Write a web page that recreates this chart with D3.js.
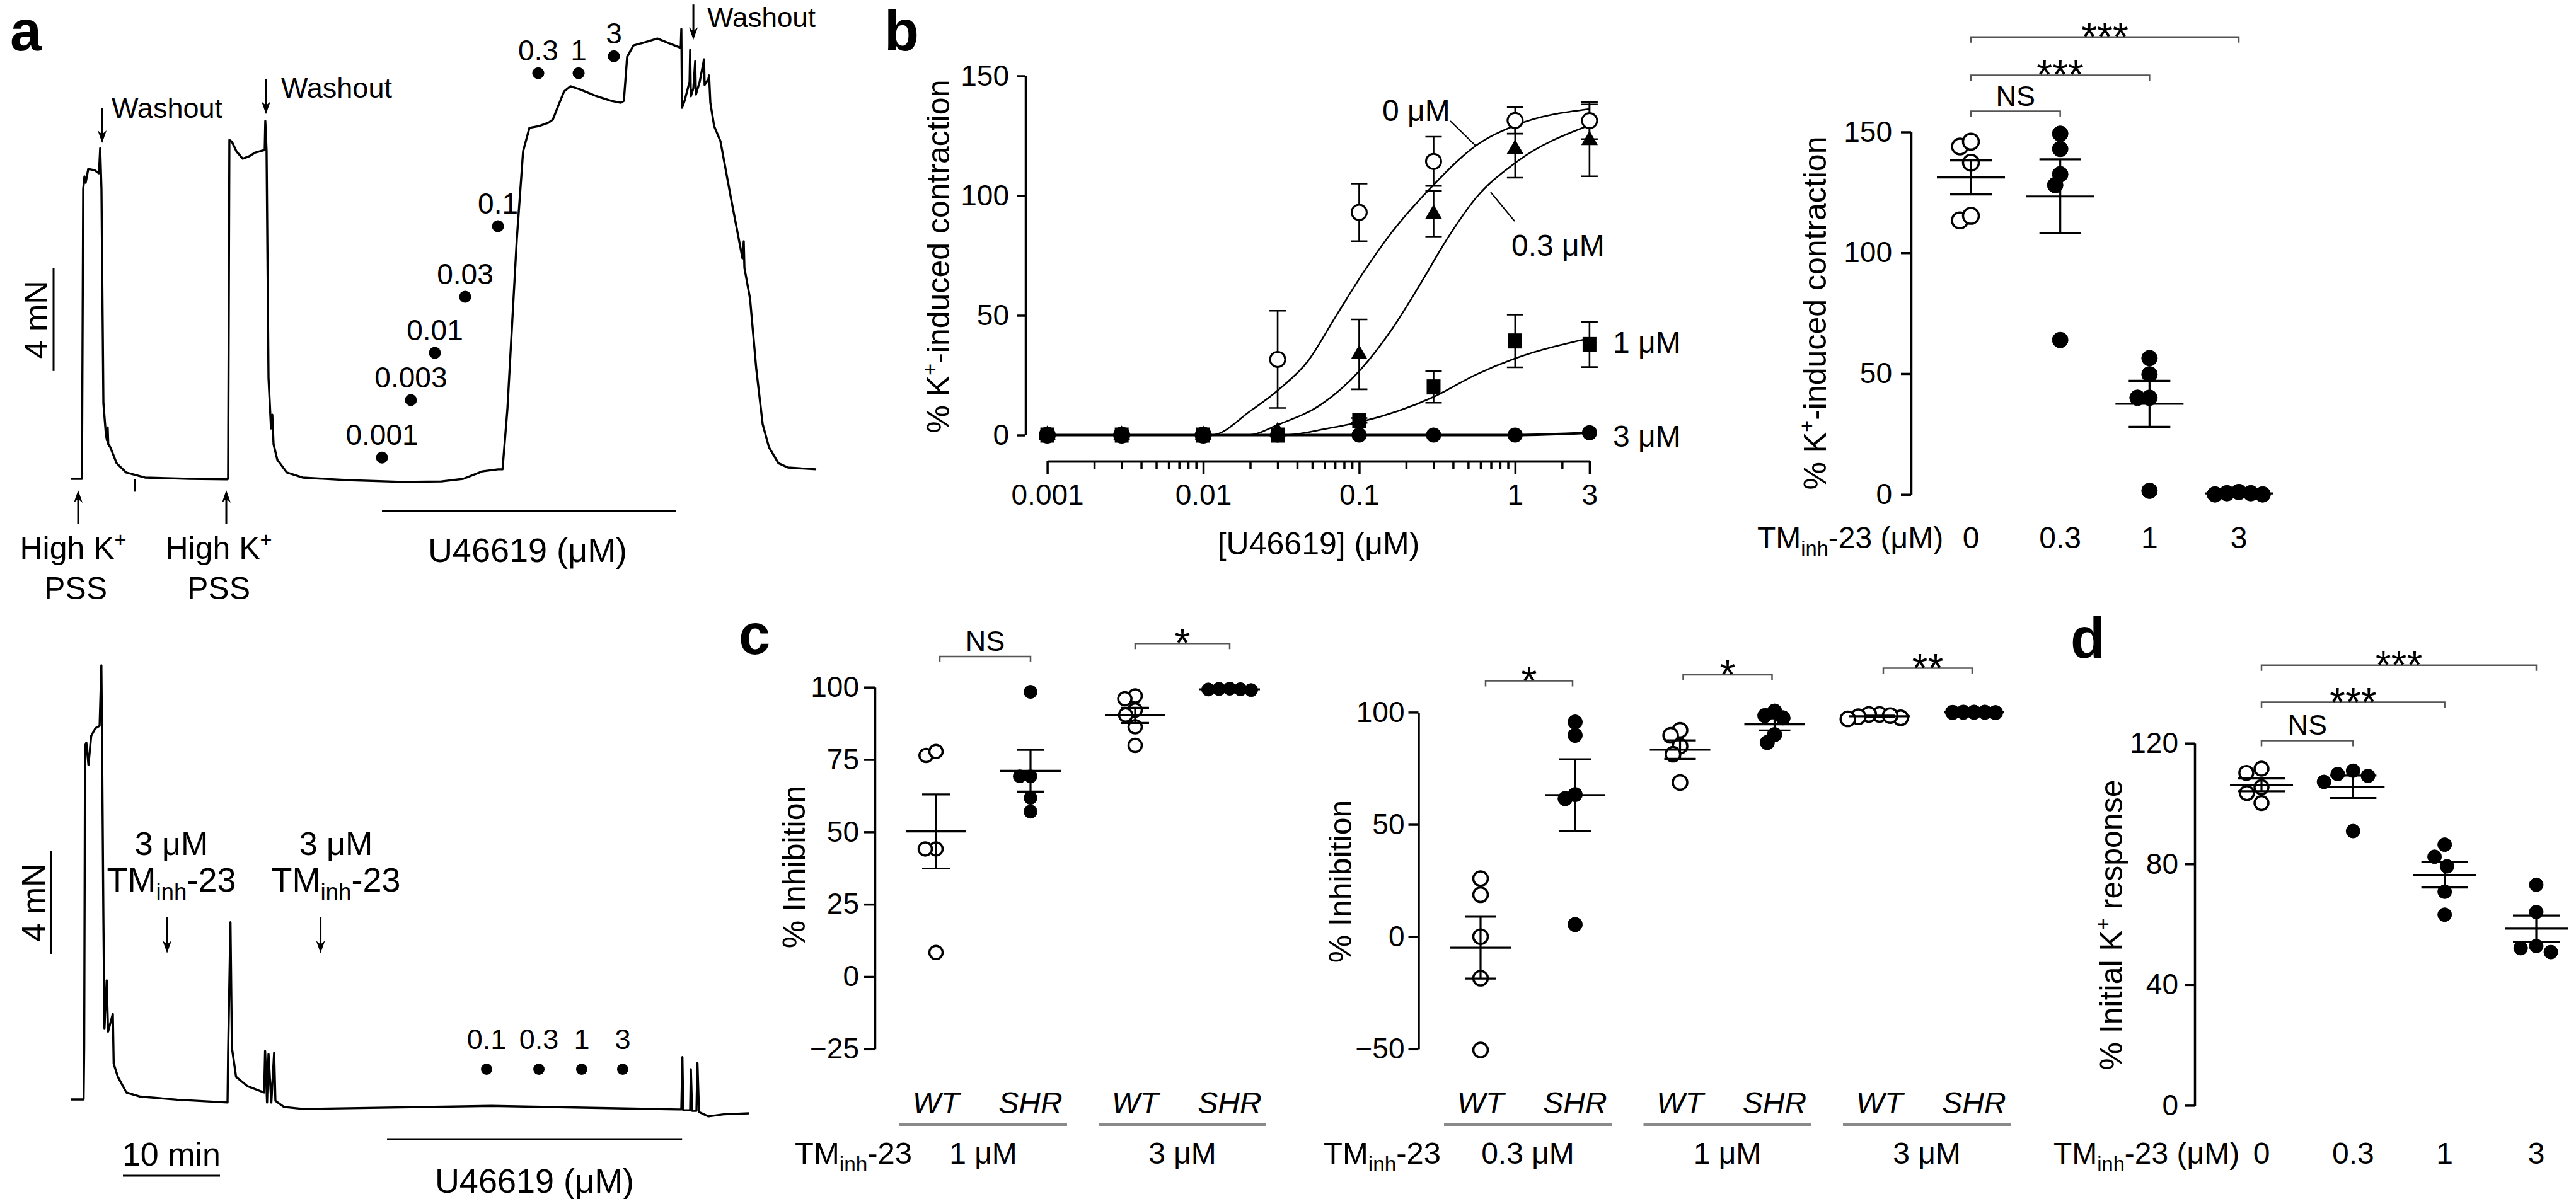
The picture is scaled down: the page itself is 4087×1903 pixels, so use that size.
<!DOCTYPE html>
<html><head><meta charset="utf-8">
<script src="https://cdn.jsdelivr.net/npm/d3@7"></script>
<style>
body{margin:0;background:#fff}
svg{display:block;background:#fff}
</style>
</head><body>
<svg id="fig" width="4087" height="1903"></svg>
<script>
// ================= DATA =================
// Panel a (top trace): time (min) and force (mN)
const traceTopT = [0,1.17,1.30,1.43,1.55,1.82,2.47,2.92,3.05,3.18,3.38,3.64,3.75,3.82,3.88,4.09,4.74,5.71,7.66,12.2,16.1,16.23,16.36,16.62,17.08,17.73,18.38,19.03,20.0,20.06,20.19,20.39,20.65,20.78,20.91,21.30,22.27,23.9,28.44,34.16,38.2,40.45,42.4,44.03,44.5,45.0,45.97,46.62,47.27,48.25,49.22,49.68,50.19,50.84,51.5,52.47,54.09,55.71,56.69,57.0,57.34,57.99,58.96,60.45,61.56,62.86,62.92,62.99,63.25,63.77,63.83,63.9,64.16,64.35,64.42,64.81,65.26,65.32,65.71,65.78,65.91,66.3,66.95,68.05,69.22,69.35,69.42,70.0,70.65,71.3,71.95,72.92,73.9,76.82];
const traceTopF = [0,0,11.29,11.78,11.53,12.07,12.02,11.9,12.88,11.29,2.94,1.72,1.5,2.0,1.35,1.23,0.61,0.25,0.05,0,-0.02,0,13.2,13.13,12.76,12.47,12.56,12.71,12.81,13.94,12.76,3.93,1.96,2.5,1.35,0.74,0.25,0.05,-0.05,-0.12,-0.1,0,0.29,0.37,0.37,2.7,9.33,12.76,13.67,13.74,13.87,13.99,14.48,15.09,15.29,15.17,14.92,14.72,14.65,14.72,16.44,16.88,16.98,17.15,16.98,16.79,17.52,14.45,14.72,15.46,16.71,14.9,15.21,16.27,14.97,15.46,16.34,15.34,15.58,15.71,14.65,13.74,13.15,10.9,8.59,9.25,8.22,7.02,4.25,2.13,1.23,0.61,0.44,0.37];
// Panel a (bottom trace)
const traceBotT = [0,1.34,1.40,1.49,1.62,1.84,2.12,2.56,2.99,3.17,3.23,3.38,3.49,3.72,3.86,4.35,4.44,4.87,5.75,7.19,10.97,16.17,16.23,16.47,16.62,17.05,18.21,19.94,20.04,20.24,20.39,20.68,20.97,21.1,21.98,24.01,43.38,62.6,62.92,63.03,63.12,63.83,63.9,64.03,64.48,64.58,64.74,65.71,67.27,69.87];
const traceBotF = [0,0,2.01,13.77,13.9,13.03,14.16,14.46,14.55,16.91,14.53,7.02,2.77,4.64,2.64,3.33,1.39,0.88,0.27,0.11,-0.01,-0.12,1.83,6.9,2.01,0.88,0.52,0.27,1.89,-0.12,1.77,-0.12,1.82,-0.05,-0.29,-0.37,-0.25,-0.39,-0.39,1.65,-0.42,-0.42,1.18,-0.44,-0.44,1.42,-0.49,-0.66,-0.58,-0.54];
// U46619 additions (µM) and times (min)
const doseLabelsTop = ["0.001","0.003","0.01","0.03","0.1","0.3","1","3"];
const doseTimeTop = [32.08,35.06,37.53,40.65,44.03,48.18,52.34,55.97];
const doseMarkTop = [0.83,3.07,4.91,7.09,9.84,15.8,15.8,16.46];
const doseLabelsBot = ["0.1","0.3","1","3"];
const doseTimeBot = [42.86,48.25,52.66,56.88];

// Panel b (concentration-response, mean ± SEM)
const concU = [0.001,0.003,0.01,0.03,0.1,0.3,1,3];
const xTickLabelsB = ["0.001","0.01","0.1","1","3"];
const yTicksB = [0,50,100,150];
const mean0 = [0,0,0,31.6,93,114.3,131.4,131.3];
const sem0  = [0,0,0,20.3,12,10.3,5.5,7.7];
const mean03 = [0,0,0,1.5,33.7,92.4,119.5,123.1];
const sem03  = [0,0,0,0,14.6,9.5,12,15];
const mean1 = [0,0,0,0,6.1,20.1,39.3,37.8];
const sem1  = [0,0,0,0,1,6.6,11,9.4];
const mean3 = [0,0,0,0,0,0,0,1];
const sem3  = [0,0,0,0,0,0,0,0];
// fitted curves
const fitX0 = [0.001,0.0113,0.0202,0.0306,0.0464,0.0704,0.1066,0.1614,0.289,0.5636,1.008,3];
const fitY0 = [0,0,10.2,19.1,30.5,49.3,68,84.6,103.4,121,129.4,136.2];
const fitX03 = [0.001,0.0194,0.0306,0.0571,0.1023,0.1614,0.245,0.372,0.5636,1.008,3];
const fitY03 = [0,0,4.5,12.8,27.4,44,62.8,82.6,99.2,113.8,129.4];
const fitX1 = [0.001,0.0333,0.06,0.1023,0.3015,0.5636,1.008,3];
const fitY1 = [0,0,2.5,5.5,16,25.3,32.1,40.4];
const fitX3 = [0.001,1,3];
const fitY3 = [0,0,1];
const seriesLabelsB = ["0 μM","0.3 μM","1 μM","3 μM"];

// Panel b right (individual values)
const tmDosesB = ["0","0.3","1","3"];
const b2_0  = [144,146,137.3,113.4,115.3];
const b2_03 = [149.3,143,132.5,128,63.9];
const b2_1  = [56.4,49.7,40,40,1.5];
const b2_3  = [1,0.5,0,0.5,0];

// Panel c left (% inhibition)
const cDosesL = ["1 μM","3 μM"];
const strains = ["WT","SHR"];
const cL_WT1  = [76.4,77.8,44.1,44.1,8.3];
const cL_SHR1 = [98.4,69.2,69.2,61.8,57];
const cL_WT3  = [97,96,92.1,90.4,86.3,79.9];
const cL_SHR3 = [99.3,99.5,99,99.4,99.2];
const yTicksCL = [-25,0,25,50,75,100];
// Panel c right
const cDosesR = ["0.3 μM","1 μM","3 μM"];
const cR_WT03  = [25.9,18.7,0,-18.5,-50.5];
const cR_SHR03 = [95.6,89.7,63.3,61.5,5.4];
const cR_WT1   = [92,89.7,84.9,81.3,68.7];
const cR_SHR1  = [98.5,100.5,97.5,90,86.5];
const cR_WT3   = [99,99,97.5,98.5,98,97];
const cR_SHR3  = [100,99.8,100,99.9,100];
const yTicksCR = [-50,0,50,100];

// Panel d (% initial K+ response)
const tmDosesD = ["0","0.3","1","3"];
const d_0  = [111.6,110.2,105.5,103.5,100.2];
const d_03 = [109.2,110.9,109.8,107.2,90.9];
const d_1  = [86.4,82.4,79.2,70.8,63.2];
const d_3  = [73.1,64.1,52.8,52.1,50.8];
const yTicksD = [0,40,80,120];

// ================= HELPERS =================
const FONT = "'Liberation Sans', Arial, Helvetica, sans-serif";
const svg = d3.select("#fig");
svg.append("rect").attr("width",4087).attr("height",1903).attr("fill","#fff");

function rich(t, s, fs) {
  const segs = s.split(/(\^\{[^}]*\}|_\{[^}]*\})/).filter(x => x !== "");
  let shift = 0;
  segs.forEach(seg => {
    const ts = t.append("tspan");
    if (seg.startsWith("^{")) { const d = -0.38*fs; ts.attr("dy", d - shift).attr("font-size", 0.65*fs).text(seg.slice(2,-1)); shift = d; }
    else if (seg.startsWith("_{")) { const d = 0.24*fs; ts.attr("dy", d - shift).attr("font-size", 0.68*fs).text(seg.slice(2,-1)); shift = d; }
    else { ts.attr("dy", -shift).text(seg); shift = 0; }
  });
}
function txt(g, x, y, s, o = {}) {
  const fs = o.fs || 46;
  const t = g.append("text").attr("x", x).attr("y", y).attr("font-size", fs)
    .attr("font-family", FONT).attr("fill", "#000")
    .attr("text-anchor", o.anchor || "middle");
  if (o.bold) t.attr("font-weight", "bold");
  if (o.italic) t.attr("font-style", "italic");
  if (o.rotate) t.attr("transform", `rotate(${o.rotate},${x},${y})`);
  rich(t, s, fs);
  return t;
}
function vArrow(g, x, yTail, yTip) {
  const dir = Math.sign(yTip - yTail), hl = 20, hw = 7;
  g.append("line").attr("x1", x).attr("x2", x).attr("y1", yTail).attr("y2", yTip - dir*hl*0.6)
    .attr("stroke", "#000").attr("stroke-width", 3);
  g.append("path").attr("d", `M${x},${yTip} L${x-hw},${yTip-dir*hl} L${x},${yTip-dir*hl*0.7} L${x+hw},${yTip-dir*hl} Z`).attr("fill", "#000");
}
function styleAxis(sel, fs) {
  sel.select(".domain").attr("stroke", "#000").attr("stroke-width", 3.5);
  sel.selectAll(".tick line").attr("stroke", "#000").attr("stroke-width", 3.5);
  sel.selectAll(".tick text").attr("font-size", fs).attr("font-family", FONT).attr("fill", "#000");
  sel.attr("font-family", FONT);
}
function swarm(values, yS, coll) {
  const idx = values.map((v, i) => i).sort((a, b) => values[b] - values[a]);
  const placed = [], off = new Array(values.length);
  for (const i of idx) {
    const y = yS(values[i]);
    const c = [0];
    for (const p of placed) {
      const dy = Math.abs(p.y - y);
      if (dy < coll) { const dx = Math.sqrt(coll*coll - dy*dy); c.push(p.x + dx + 0.01, p.x - dx - 0.01); }
    }
    c.sort((a, b) => (Math.abs(a) - Math.abs(b)) || (a - b));
    let ch = 0;
    for (const cc of c) { if (placed.every(p => (p.x-cc)**2 + (p.y-y)**2 >= coll*coll - 0.5)) { ch = cc; break; } }
    placed.push({x: ch, y}); off[i] = ch;
  }
  return off;
}
function dotGroup(g, cx, vals, yS, o) {
  const off = swarm(vals, yS, o.coll);
  g.selectAll(null).data(vals).enter().append("circle")
    .attr("cx", (d, i) => cx + off[i]).attr("cy", d => yS(d)).attr("r", o.r)
    .attr("fill", o.open ? "#fff" : "#000").attr("stroke", "#000").attr("stroke-width", o.open ? 3.5 : 1);
  const m = d3.mean(vals), se = d3.deviation(vals) / Math.sqrt(vals.length);
  const L = (x1, y1, x2, y2) => g.append("line").attr("x1", x1).attr("y1", y1).attr("x2", x2).attr("y2", y2)
    .attr("stroke", "#000").attr("stroke-width", 3.2);
  L(cx - o.mh, yS(m), cx + o.mh, yS(m));
  if (yS(m - se) - yS(m + se) > 2) {
    L(cx, yS(m + se), cx, yS(m - se));
    L(cx - o.ch, yS(m + se), cx + o.ch, yS(m + se));
    L(cx - o.ch, yS(m - se), cx + o.ch, yS(m - se));
  }
}
function bracket(g, x1, x2, y, label, isStar, fs) {
  g.append("path").attr("d", `M${x1},${y+9} V${y} H${x2} V${y+9}`)
    .attr("fill", "none").attr("stroke", "#555").attr("stroke-width", 2.5);
  if (isStar) txt(g, (x1 + x2) / 2, y + 22, label, {fs: 64});
  else txt(g, (x1 + x2) / 2, y - 9, label, {fs: fs || 45});
}

// ================= PANEL a =================
const gA = svg.append("g");
const xT = d3.scaleLinear().domain([0, 70]).range([112, 112 + 70 * 15.4]);
const yTop = d3.scaleLinear().domain([0, 4]).range([760, 760 - 163]);
const yBot = d3.scaleLinear().domain([0, 4]).range([1745, 1745 - 163]);
txt(gA, 16, 80, "a", {fs: 90, bold: true, anchor: "start"});

gA.append("path").datum(traceTopT)
  .attr("d", d3.line().x((d, i) => xT(traceTopT[i])).y((d, i) => yTop(traceTopF[i])))
  .attr("fill", "none").attr("stroke", "#000").attr("stroke-width", 3.4).attr("stroke-linejoin", "round");
gA.append("line").attr("x1", xT(6.6)).attr("x2", xT(6.6)).attr("y1", yTop(0)).attr("y2", yTop(-0.5)).attr("stroke", "#000").attr("stroke-width", 3);
// scale bar 4 mN
gA.append("line").attr("x1", 85).attr("x2", 85).attr("y1", yTop(4.2)).attr("y2", yTop(8.2)).attr("stroke", "#000").attr("stroke-width", 3);
txt(gA, 75, (yTop(4.2) + yTop(8.2)) / 2, "4 mN", {fs: 52, rotate: -90});
// washout arrows
[[3.25, 13.08], [20.13, 14.2], [64.16, 17.1]].forEach(([t, f]) => {
  vArrow(gA, xT(t), yTop(f) - 56, yTop(f));
});
txt(gA, xT(3.25) + 15, yTop(13.08) - 40, "Washout", {fs: 45, anchor: "start"});
txt(gA, xT(20.13) + 24, yTop(14.2) - 26, "Washout", {fs: 45, anchor: "start"});
txt(gA, xT(64.16) + 22, 43, "Washout", {fs: 44, anchor: "start"});
// High K+ arrows
[0.78, 16.04].forEach((t, i) => {
  vArrow(gA, xT(t), 832, 778);
  txt(gA, xT(t) - 8 + i * -4, 887, "High K^{+}", {fs: 50});
  txt(gA, xT(t) - 4 + i * -8, 951, "PSS", {fs: 50});
});
// dose dots
doseTimeTop.forEach((t, i) => {
  gA.append("circle").attr("cx", xT(t)).attr("cy", yTop(doseMarkTop[i])).attr("r", 9.5).attr("fill", "#000");
  txt(gA, xT(t), yTop(doseMarkTop[i]) - 20, doseLabelsTop[i], {fs: 46});
});
gA.append("line").attr("x1", xT(32.08)).attr("x2", xT(62.34)).attr("y1", 811).attr("y2", 811).attr("stroke", "#000").attr("stroke-width", 3);
txt(gA, 837, 892, "U46619 (μM)", {fs: 54});

// bottom trace
gA.append("path").datum(traceBotT)
  .attr("d", d3.line().x((d, i) => xT(traceBotT[i])).y((d, i) => yBot(traceBotF[i])))
  .attr("fill", "none").attr("stroke", "#000").attr("stroke-width", 3.4).attr("stroke-linejoin", "round");
gA.append("line").attr("x1", 81).attr("x2", 81).attr("y1", yBot(5.67)).attr("y2", yBot(9.67)).attr("stroke", "#000").attr("stroke-width", 3);
txt(gA, 71, (yBot(5.67) + yBot(9.67)) / 2, "4 mN", {fs: 52, rotate: -90});
[[9.94, 272], [25.75, 533]].forEach(([t, cx]) => {
  vArrow(gA, xT(t), 1456, 1513);
  txt(gA, cx, 1357, "3 μM", {fs: 52});
  txt(gA, cx, 1415, "TM_{inh}-23", {fs: 54});
});
doseTimeBot.forEach((t, i) => {
  gA.append("circle").attr("cx", xT(t)).attr("cy", 1697).attr("r", 9).attr("fill", "#000");
  txt(gA, xT(t), 1665, doseLabelsBot[i], {fs: 45});
});
gA.append("line").attr("x1", xT(5.39)).attr("x2", xT(15.39)).attr("y1", 1866).attr("y2", 1866).attr("stroke", "#000").attr("stroke-width", 3);
txt(gA, 272, 1850, "10 min", {fs: 52});
gA.append("line").attr("x1", xT(32.6)).attr("x2", xT(63.0)).attr("y1", 1808).attr("y2", 1808).attr("stroke", "#000").attr("stroke-width", 3);
txt(gA, 848, 1893, "U46619 (μM)", {fs: 54});

// ================= PANEL b (left) =================
const gB = svg.append("g");
txt(gB, 1403, 80, "b", {fs: 90, bold: true, anchor: "start"});
const xB = d3.scaleLog().domain([0.001, 3]).range([1661.6, 2521.9]);
const yB = d3.scaleLinear().domain([0, 150]).range([690.5, 120.5]);
gB.append("g").attr("transform", "translate(1627,0)")
  .call(d3.axisLeft(yB).tickValues(yTicksB).tickSize(14).tickPadding(12).tickSizeOuter(0))
  .call(styleAxis, 46);
const majors = [0.001, 0.01, 0.1, 1, 3];
const minors = xB.ticks().filter(v => !majors.some(m => Math.abs(m - v) / m < 1e-6));
gB.append("g").attr("transform", "translate(0,732)")
  .call(d3.axisBottom(xB).tickValues(minors).tickSize(12).tickFormat("").tickSizeOuter(0))
  .call(styleAxis, 46);
gB.append("g").attr("transform", "translate(0,732)")
  .call(d3.axisBottom(xB).tickValues(majors).tickSize(20).tickPadding(16).tickSizeOuter(0)
    .tickFormat((d, i) => xTickLabelsB[i]))
  .call(styleAxis, 46);
txt(gB, 1506, 407, "% K^{+}-induced contraction", {fs: 50, rotate: -90});
txt(gB, 2092, 880, "[U46619] (μM)", {fs: 50});

const lineB = d3.line().x(d => xB(d[0])).y(d => yB(d[1])).curve(d3.curveMonotoneX);
[[fitX0, fitY0, 2.6], [fitX03, fitY03, 2.6], [fitX1, fitY1, 2.6], [fitX3, fitY3, 4]].forEach(([xs, ys, w]) => {
  gB.append("path").datum(xs.map((x, i) => [x, ys[i]])).attr("d", lineB)
    .attr("fill", "none").attr("stroke", "#000").attr("stroke-width", w);
});
function errB(means, sems) {
  concU.forEach((c, i) => {
    if (sems[i] <= 0) return;
    const x = xB(c), y1 = yB(means[i] + sems[i]), y2 = yB(means[i] - sems[i]);
    gB.append("path").attr("d", `M${x},${y1}V${y2}M${x-13},${y1}H${x+13}M${x-13},${y2}H${x+13}`)
      .attr("stroke", "#000").attr("stroke-width", 2.6).attr("fill", "none");
  });
}
errB(mean0, sem0); errB(mean03, sem03); errB(mean1, sem1);
// markers: 0 µM open circles, 0.3 µM triangles, 3 µM filled circles, 1 µM squares
gB.selectAll(null).data(mean0).enter().append("circle")
  .attr("cx", (d, i) => xB(concU[i])).attr("cy", d => yB(d)).attr("r", 12)
  .attr("fill", "#fff").attr("stroke", "#000").attr("stroke-width", 3);
gB.selectAll(null).data(mean03).enter().append("path")
  .attr("d", d3.symbol(d3.symbolTriangle, 300))
  .attr("transform", (d, i) => `translate(${xB(concU[i])},${yB(d)})`).attr("fill", "#000");
gB.selectAll(null).data(mean3).enter().append("circle")
  .attr("cx", (d, i) => xB(concU[i])).attr("cy", d => yB(d)).attr("r", 12).attr("fill", "#000");
gB.selectAll(null).data(mean1).enter().append("rect")
  .attr("x", (d, i) => xB(concU[i]) - 11).attr("y", d => yB(d) - 12).attr("width", 22).attr("height", 24).attr("fill", "#000");
// series labels
txt(gB, 2193, 192, seriesLabelsB[0], {fs: 48, anchor: "start"});
gB.append("line").attr("x1", 2301).attr("y1", 192).attr("x2", 2341).attr("y2", 231).attr("stroke", "#000").attr("stroke-width", 2);
txt(gB, 2398, 406, seriesLabelsB[1], {fs: 48, anchor: "start"});
gB.append("line").attr("x1", 2365).attr("y1", 305).attr("x2", 2403).attr("y2", 351).attr("stroke", "#000").attr("stroke-width", 2);
txt(gB, 2559, 560, seriesLabelsB[2], {fs: 48, anchor: "start"});
txt(gB, 2559, 709, seriesLabelsB[3], {fs: 48, anchor: "start"});

// ================= PANEL b (right) =================
const gB2 = svg.append("g");
const yB2 = d3.scaleLinear().domain([0, 150]).range([784.7, 209.5]);
const xB2 = d3.scalePoint().domain(tmDosesB).range([3127, 3552]);
gB2.append("g").attr("transform", "translate(3032,0)")
  .call(d3.axisLeft(yB2).tickValues(yTicksB).tickSize(16).tickPadding(14).tickSizeOuter(0))
  .call(styleAxis, 46);
txt(gB2, 2897, 497, "% K^{+}-induced contraction", {fs: 50, rotate: -90});
[[b2_0, true], [b2_03, false], [b2_1, false], [b2_3, false]].forEach(([v, open], i) =>
  dotGroup(gB2, xB2(tmDosesB[i]), v, yB2, {r: 12.5, coll: 19, open, mh: 54, ch: 33}));
bracket(gB2, xB2("0"), xB2("0.3"), yB2(158.6), "NS", false);
bracket(gB2, xB2("0"), xB2("1"), yB2(173.5), "***", true);
bracket(gB2, xB2("0"), xB2("3"), yB2(189.3), "***", true);
txt(gB2, 2788, 870, "TM_{inh}-23 (μM)", {fs: 48, anchor: "start"});
tmDosesB.forEach(d => txt(gB2, xB2(d), 870, d, {fs: 48}));

// ================= PANEL c (left) =================
const gC = svg.append("g");
txt(gC, 1172, 1038, "c", {fs: 90, bold: true, anchor: "start"});
const yCL = d3.scaleLinear().domain([-25, 100]).range([1664.8, 1090.7]);
const xCL = d3.scalePoint().domain(cDosesL).range([1560, 1876]);
const xStrain = d3.scalePoint().domain(strains).range([-75, 75]);
gC.append("g").attr("transform", "translate(1388,0)")
  .call(d3.axisLeft(yCL).tickValues(yTicksCL).tickSize(17).tickPadding(8).tickSizeOuter(0))
  .call(styleAxis, 46);
txt(gC, 1277, 1376, "% Inhibition", {fs: 50, rotate: -90});
const cLgroups = [[cDosesL[0], "WT", cL_WT1], [cDosesL[0], "SHR", cL_SHR1], [cDosesL[1], "WT", cL_WT3], [cDosesL[1], "SHR", cL_SHR3]];
cLgroups.forEach(([dose, s, v]) =>
  dotGroup(gC, xCL(dose) + xStrain(s), v, yCL, {r: 10.5, coll: 17, open: s === "WT", mh: 48, ch: 22}));
bracket(gC, xCL(cDosesL[0]) + xStrain("WT") + 6, xCL(cDosesL[0]) + xStrain("SHR"), yCL(110.6), "NS", false);
bracket(gC, xCL(cDosesL[1]) + xStrain("WT"), xCL(cDosesL[1]) + xStrain("SHR"), yCL(115.1), "*", true);
cDosesL.forEach(d => {
  strains.forEach(s => txt(gC, xCL(d) + xStrain(s), 1767, s, {fs: 48, italic: true}));
  gC.append("line").attr("x1", xCL(d) - 133).attr("x2", xCL(d) + 133).attr("y1", 1785).attr("y2", 1785)
    .attr("stroke", "#8a8a8a").attr("stroke-width", 4);
  txt(gC, xCL(d), 1847, d, {fs: 48});
});
txt(gC, 1261, 1847, "TM_{inh}-23", {fs: 49, anchor: "start"});

// ================= PANEL c (right) =================
const gC2 = svg.append("g");
const yCR = d3.scaleLinear().domain([-50, 100]).range([1664.8, 1130.4]);
const xCR = d3.scalePoint().domain(cDosesR).range([2424, 3057]);
gC2.append("g").attr("transform", "translate(2250.5,0)")
  .call(d3.axisLeft(yCR).tickValues(yTicksCR).tickSize(16).tickPadding(6).tickSizeOuter(0))
  .call(styleAxis, 46);
txt(gC2, 2144, 1399, "% Inhibition", {fs: 50, rotate: -90});
const cRgroups = [[cDosesR[0], "WT", cR_WT03], [cDosesR[0], "SHR", cR_SHR03], [cDosesR[1], "WT", cR_WT1],
  [cDosesR[1], "SHR", cR_SHR1], [cDosesR[2], "WT", cR_WT3], [cDosesR[2], "SHR", cR_SHR3]];
cRgroups.forEach(([dose, s, v]) =>
  dotGroup(gC2, xCR(dose) + xStrain(s), v, yCR, {r: 11.5, coll: 17, open: s === "WT", mh: 48, ch: 25}));
bracket(gC2, xCR(cDosesR[0]) + xStrain("WT") + 8, xCR(cDosesR[0]) + xStrain("SHR") - 4, yCR(114), "*", true);
bracket(gC2, xCR(cDosesR[1]) + xStrain("WT") + 5, xCR(cDosesR[1]) + xStrain("SHR") - 4, yCR(116.7), "*", true);
bracket(gC2, xCR(cDosesR[2]) + xStrain("WT") + 6, xCR(cDosesR[2]) + xStrain("SHR") - 3, yCR(119.6), "**", true);
cDosesR.forEach(d => {
  strains.forEach(s => txt(gC2, xCR(d) + xStrain(s), 1767, s, {fs: 48, italic: true}));
  gC2.append("line").attr("x1", xCR(d) - 133).attr("x2", xCR(d) + 133).attr("y1", 1785).attr("y2", 1785)
    .attr("stroke", "#8a8a8a").attr("stroke-width", 4);
  txt(gC2, xCR(d), 1847, d, {fs: 48});
});
txt(gC2, 2100, 1847, "TM_{inh}-23", {fs: 49, anchor: "start"});

// ================= PANEL d =================
const gD = svg.append("g");
txt(gD, 3285, 1044, "d", {fs: 90, bold: true, anchor: "start"});
const yD = d3.scaleLinear().domain([0, 120]).range([1754.4, 1179.7]);
const xD = d3.scalePoint().domain(tmDosesD).range([3588, 4024]);
gD.append("g").attr("transform", "translate(3482,0)")
  .call(d3.axisLeft(yD).tickValues(yTicksD).tickSize(16).tickPadding(10).tickSizeOuter(0))
  .call(styleAxis, 46);
txt(gD, 3367, 1468, "% Initial K^{+} response", {fs: 50, rotate: -90});
[[d_0, true], [d_03, false], [d_1, false], [d_3, false]].forEach(([v, open], i) =>
  dotGroup(gD, xD(tmDosesD[i]), v, yD, {r: 11, coll: 25, open, mh: 50, ch: 37}));
bracket(gD, xD("0"), xD("0.3"), yD(120.9), "NS", false);
bracket(gD, xD("0"), xD("1"), yD(133.6), "***", true);
bracket(gD, xD("0"), xD("3"), yD(145.9), "***", true);
txt(gD, 3258, 1847, "TM_{inh}-23 (μM)", {fs: 48, anchor: "start"});
tmDosesD.forEach(d => txt(gD, xD(d), 1847, d, {fs: 48}));
</script>
</body></html>
